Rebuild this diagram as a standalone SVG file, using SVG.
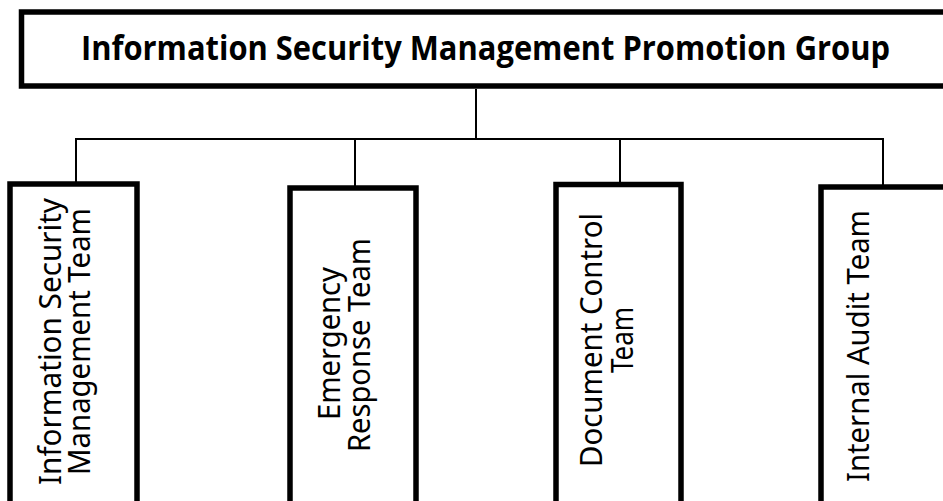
<svg xmlns="http://www.w3.org/2000/svg" width="943" height="501" viewBox="0 0 943 501">
<style>
.box{fill:#fff;stroke:#000;stroke-width:5.5}
.conn{fill:none;stroke:#000;stroke-width:2}
.title{font-family:"Open Sans","Noto Sans",sans-serif;font-weight:bold;font-size:34px;fill:#000;font-variant-ligatures:none}
.lbl{font-family:"Noto Sans","Open Sans",sans-serif;font-size:30px;fill:#000;text-anchor:middle}
</style>
<rect x="0" y="0" width="943" height="501" fill="#fff"/>
<g id="connectors">
<path class="conn" d="M476,89 V139"/>
<path class="conn" d="M75,139 H884"/>
<path class="conn" d="M76,139 V184"/>
<path class="conn" d="M355,139 V188"/>
<path class="conn" d="M620,139 V185"/>
<path class="conn" d="M883,139 V187"/>
</g>
<g id="promotion-group">
<rect class="box" x="21.5" y="12" width="940" height="74"/>
<text class="title" x="81" y="60" textLength="809" lengthAdjust="spacingAndGlyphs">Information Security Management Promotion Group</text>
</g>
<g id="ism-team">
<rect class="box" x="10" y="184" width="127" height="330"/>
<text class="lbl" transform="translate(61,341.5) rotate(-90)" textLength="287" lengthAdjust="spacingAndGlyphs">Information Security</text>
<text class="lbl" transform="translate(90,341.5) rotate(-90)" textLength="267" lengthAdjust="spacingAndGlyphs">Management Team</text>
</g>
<g id="emergency-team">
<rect class="box" x="290" y="188" width="126" height="330"/>
<text class="lbl" transform="translate(340,343.5) rotate(-90)" textLength="153" lengthAdjust="spacingAndGlyphs">Emergency</text>
<text class="lbl" transform="translate(370,345) rotate(-90)" textLength="214" lengthAdjust="spacingAndGlyphs">Response Team</text>
</g>
<g id="document-team">
<rect class="box" x="556" y="184.5" width="125" height="330"/>
<text class="lbl" transform="translate(602,340) rotate(-90)" textLength="254" lengthAdjust="spacingAndGlyphs">Document Control</text>
<text class="lbl" transform="translate(633,340) rotate(-90)" textLength="66" lengthAdjust="spacingAndGlyphs">Team</text>
</g>
<g id="audit-team">
<rect class="box" x="821" y="187" width="126" height="330"/>
<text class="lbl" transform="translate(869,346) rotate(-90)" textLength="272" lengthAdjust="spacingAndGlyphs">Internal Audit Team</text>
</g>
</svg>
